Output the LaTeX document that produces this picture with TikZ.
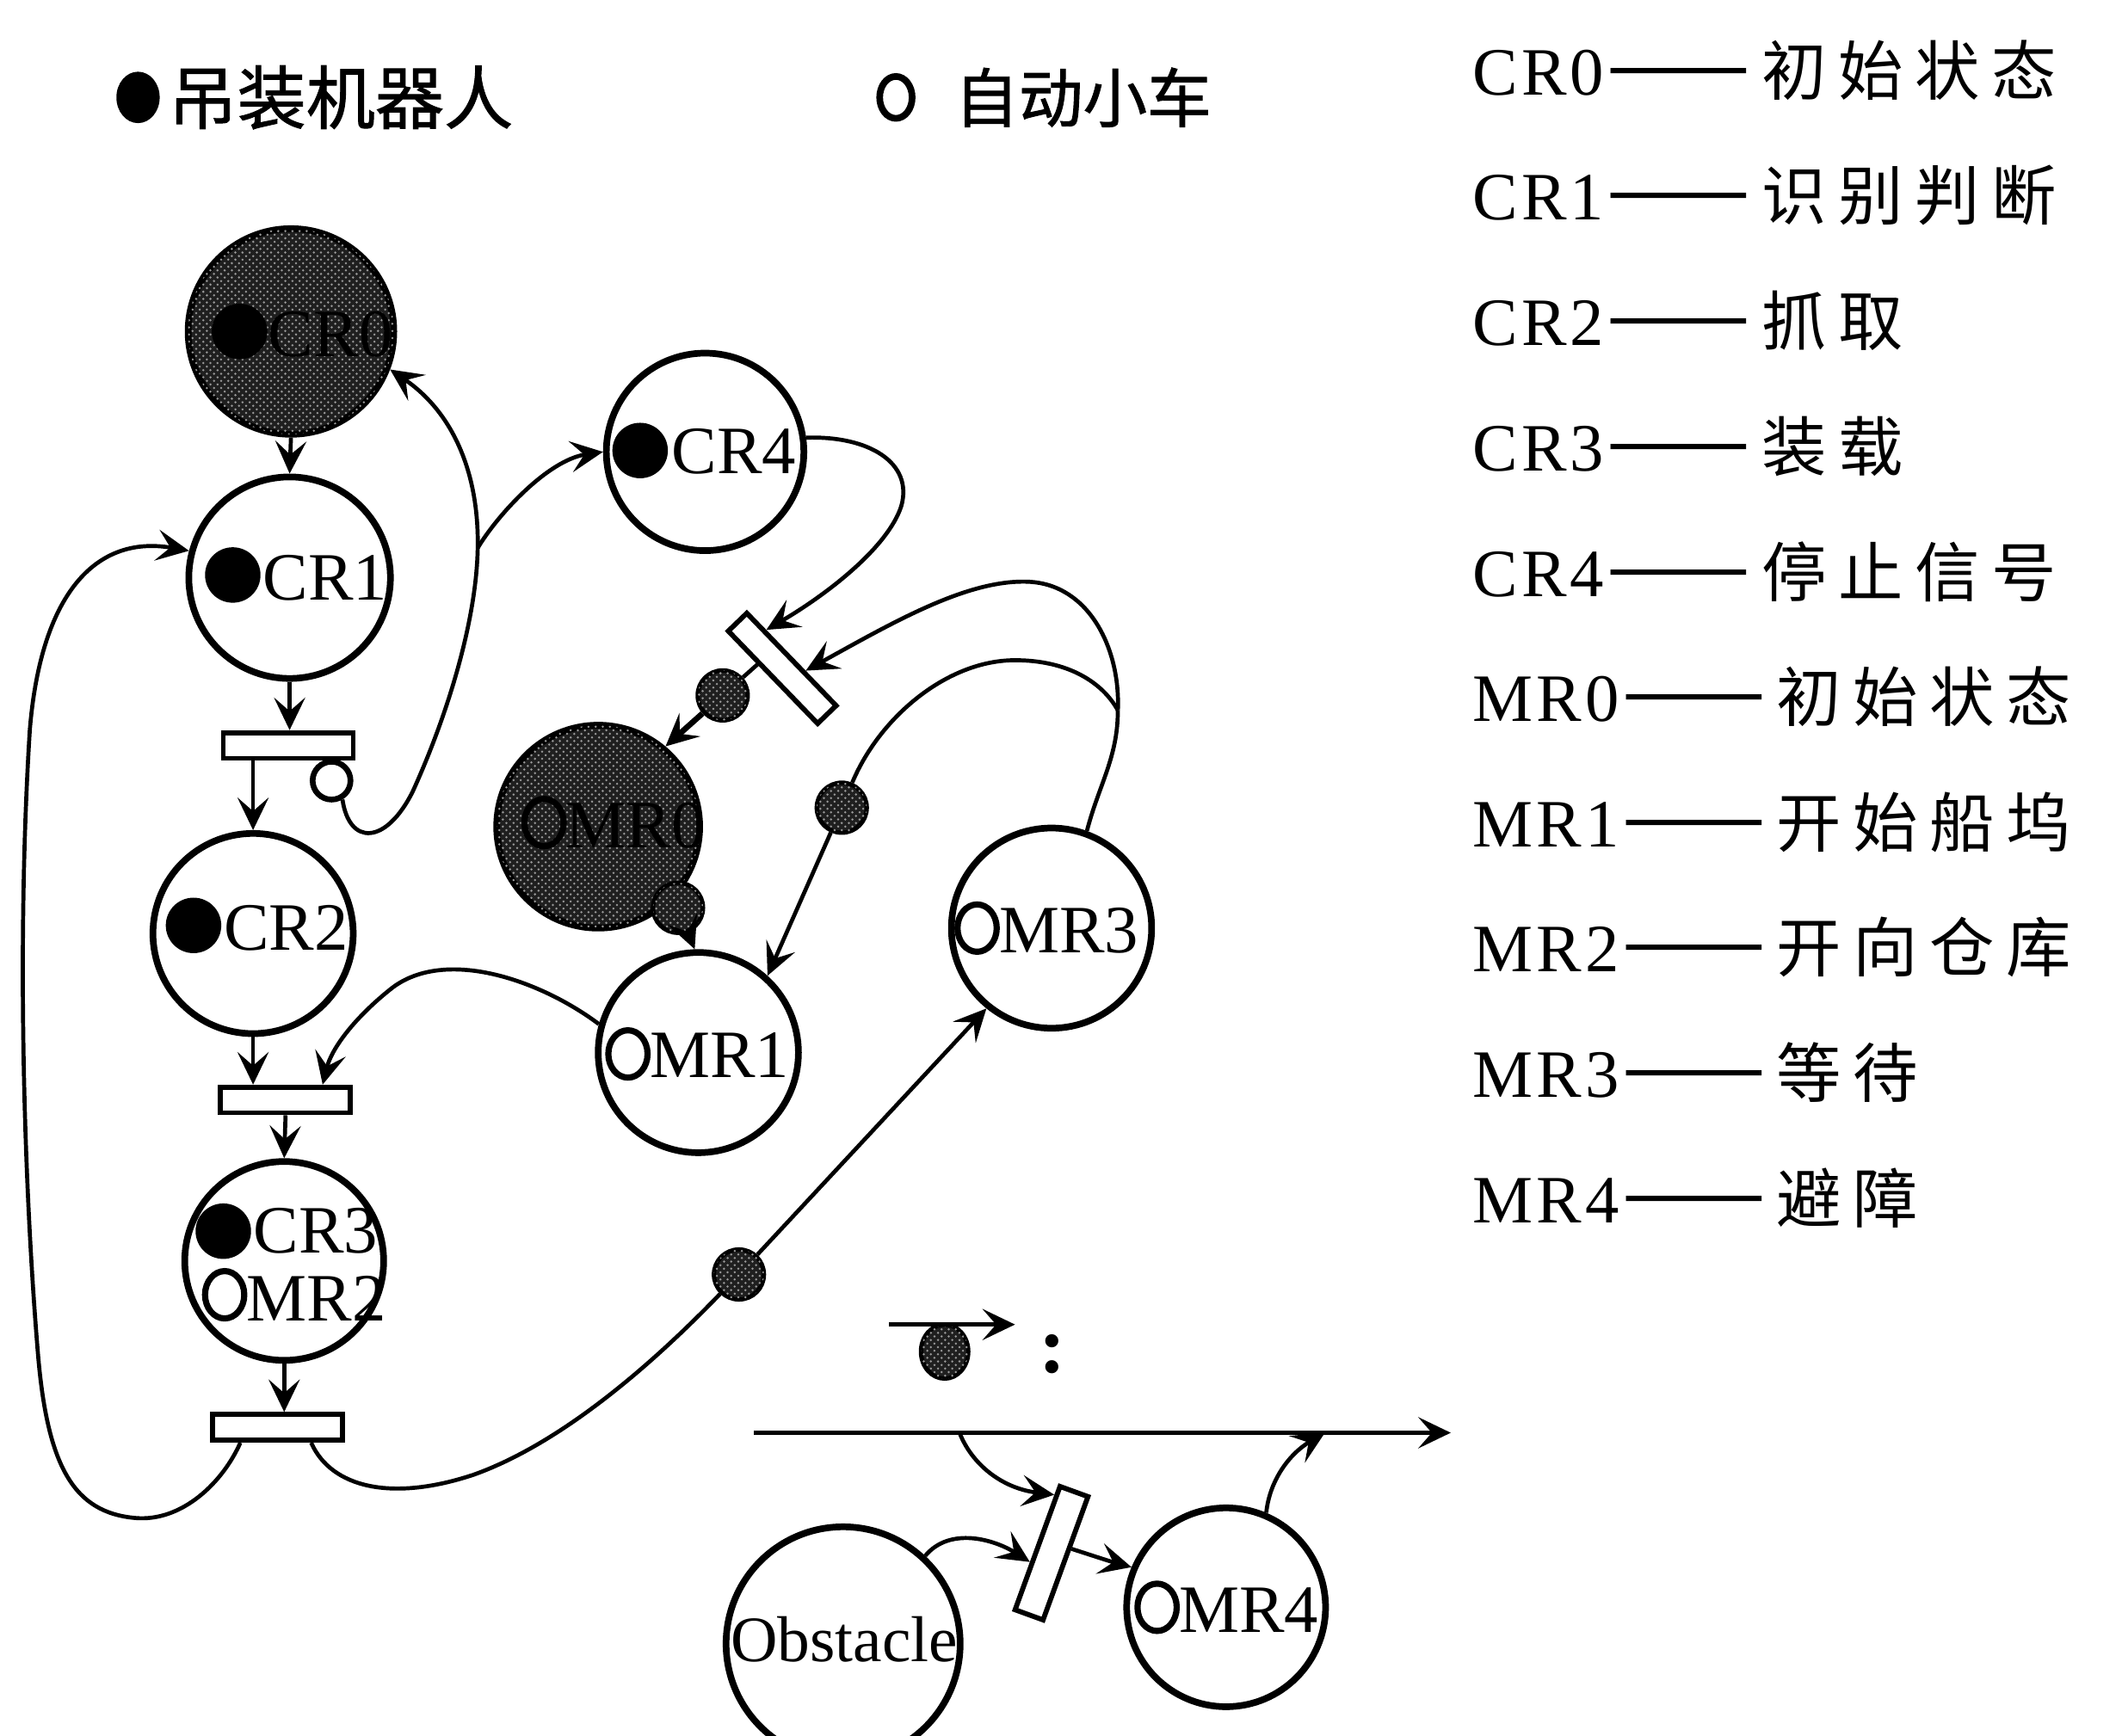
\documentclass[tikz,border=0pt]{standalone}
\usepackage{fontspec}
\setmainfont{Liberation Serif}
\newfontfamily\cjk{Noto Sans CJK SC}
\newfontfamily\cjkb[FakeBold=1.2]{Noto Sans CJK SC}
\newfontfamily\cjkls[LetterSpace=18]{Noto Sans CJK SC}
\newfontfamily\latls[LetterSpace=5]{Liberation Serif}
\usetikzlibrary{arrows.meta,calc,patterns,shapes.geometric}
\begin{document}
\begin{tikzpicture}[x=0.02cm,y=-0.02cm,
  pl/.style={circle,draw,line width=2.8pt,minimum size=#1,inner sep=0pt},
  tbar/.style={rectangle,draw,line width=2.1pt,fill=white,minimum width=1.92cm,minimum height=0.38cm,inner sep=0pt},
  dark/.style={fill=black!88,postaction={pattern=crosshatch dots,pattern color=black!40}},
  tok/.style={circle,draw,line width=1.8pt,minimum size=0.74cm,inner sep=0pt,dark},
  inh/.style={circle,draw,line width=2.4pt,fill=white,minimum size=0.56cm,inner sep=0pt},
  conn/.style={line width=1.7pt},
  arr/.style={conn,-{Stealth[length=0.48cm,width=0.46cm,inset=0.2cm]}},
  lbl/.style={font=\fontsize{28.5}{30}\selectfont,inner sep=0pt,anchor=west},
  leg/.style={inner sep=0pt,anchor=west},
  odot/.style={line width=2.6pt},
]
\useasboundingbox (0,0) rectangle (1568,1283);

% ---------- top legend
\fill (102,72) ellipse [x radius=0.32cm, y radius=0.38cm];
\node[leg] (lgA) at (124,72) {\cjkb\fontsize{29}{30}\selectfont 吊装机器人};
\draw[line width=2.8pt] (662,72) ellipse [x radius=0.24cm, y radius=0.31cm];
\node[leg] (lgB) at (705,72) {\cjkb\fontsize{27}{30}\selectfont 自动小车};

% ---------- right legend
\foreach \lab/\txt [count=\i from 0] in {CR0/初始状态,CR1/识别判断,CR2/抓取,CR3/装载,CR4/停止信号,MR0/初始状态,MR1/开始船坞,MR2/开向仓库,MR3/等待,MR4/避障}
  \node[leg] (lg\lab) at (1088,52+92.6*\i) {{\latls\fontsize{28.5}{30}\selectfont\lab}\hspace{0.05cm}{\cjk\fontsize{36}{30}\selectfont ——}\hspace{0.16cm}{\cjkls\fontsize{27.3}{30}\selectfont\txt}};

% ---------- places and transitions
\node[pl=3.04cm,dark] (CR0) at (215,245) {};
\node[pl=2.98cm] (CR1) at (214,427) {};
\node[inh] (inh) at (245,577) {};
\node[tbar] (T1) at (213,551) {};
\node[pl=2.96cm] (CR2) at (187,690) {};
\node[tbar] (T3) at (211,813) {};
\node[pl=2.94cm] (CR3) at (210,932) {};
\node[tbar] (T4) at (205,1055) {};
\node[pl=2.92cm] (CR4) at (521,334) {};
\node[tbar,rotate=-46,minimum width=1.9cm] (T2) at (578,494) {};
\node[pl=3.0cm,dark] (MR0) at (442,611) {};
\node[pl=2.96cm] (MR1) at (516,778) {};
\node[pl=2.96cm] (MR3) at (777,686) {};
\node[pl=3.46cm] (Obs) at (623,1215) {};
\node[tbar,rotate=70,minimum width=1.94cm,minimum height=0.44cm] (T5) at (777,1148) {};
\node[pl=2.94cm] (MR4) at (906,1188) {};

% tokens
\node[tok] (tA) at (534,514) {};
\node[tok] (tB) at (501,671) {};
\node[tok] (tC) at (622,597) {};
\node[tok] (tD) at (546,942) {};

% ---------- labels inside places
\fill (177,245) circle [radius=0.41cm];
\node[lbl] (lCR0) at (198,247) {CR0};
\fill (172,425) circle [radius=0.41cm];
\node[lbl] (lCR1) at (194,427) {CR1};
\fill (143,684) circle [radius=0.41cm];
\node[lbl] (lCR2) at (165,686) {CR2};
\fill (165,910) circle [radius=0.41cm];
\node[lbl] (lCR3) at (187,910) {CR3};
\draw[odot] (166,957) ellipse [x radius=0.29cm, y radius=0.35cm];
\node[lbl] (lMR2) at (182,960) {MR2};
\fill (473,333) circle [radius=0.41cm];
\node[lbl] (lCR4) at (496,334) {CR4};
\draw[odot] (402,608) ellipse [x radius=0.29cm, y radius=0.35cm];
\node[lbl] (lMR0) at (418,610) {MR0};
\draw[odot] (464,779) ellipse [x radius=0.29cm, y radius=0.35cm];
\node[lbl] (lMR1) at (480,780) {MR1};
\draw[odot] (722,686) ellipse [x radius=0.29cm, y radius=0.35cm];
\node[lbl] (lMR3) at (738,688) {MR3};
\draw[odot] (855,1188) ellipse [x radius=0.29cm, y radius=0.35cm];
\node[lbl] (lMR4) at (871,1190) {MR4};
\node[inner sep=0pt,font=\fontsize{27.3}{30}\selectfont] (lObs) at (624,1212) {Obstacle};

% ---------- connectors: robot column
\draw[arr] (CR0.south) -- (CR1.north);
\draw[arr] (CR1.south) -- (CR1.south |- T1.north);
\draw[arr] (T1.south -| CR2.north) -- (CR2.north);
\draw[arr] (CR2.south) -- (CR2.south |- T3.north);
\draw[arr] (T3.south) -- (CR3.north);
\draw[arr] (CR3.south) -- (CR3.south |- T4.north);

% inhibitor curve to CR0 and branch to CR4
\coordinate (j) at (353,405);
\draw[conn] (inh.-60) .. controls (258,625) and (285,625) .. (305,585) .. controls (330,530) and (352,460) .. (j);
\draw[arr] (j) .. controls (354,350) and (335,305) .. (CR0.-21);
\draw[arr] (j) .. controls (368,380) and (405,340) .. (CR4.west);

% CR4 -> T2
\coordinate (T2a) at ($(T2.north)!0.58!(T2.north west)$);
\draw[arr] (CR4.8) .. controls (642,322) and (675,342) .. (666,374) .. controls (656,405) and (610,440) .. (T2a);

% MR3 -> T2 and MR3 -> token -> MR1
\coordinate (k) at (826,525);
\draw[conn] (MR3.70) .. controls (812,580) and (826,560) .. (k);
\coordinate (T2b) at ($(T2.north)!0.27!(T2.north east)$);
\draw[arr] (k) .. controls (828,480) and (805,432) .. (760,430) .. controls (715,428) and (660,460) .. (T2b);
\draw[conn] (k) .. controls (815,505) and (790,488) .. (750,488) .. controls (700,488) and (650,530) .. (tC);
\draw[arr] (tC) -- (MR1.48);

% T2 -> token -> MR0 -> token -> MR1
\coordinate (T2c) at ($(T2.south)!0.3!(T2.south west)$);
\draw[conn] (T2c) -- (tA);
\draw[arr,line width=2.4pt] (tA) -- (MR0.50);
\draw[arr] (tB) -- (MR1.92);

% MR1 -> T3
\coordinate (T3a) at ($(T3.north)!0.55!(T3.north east)$);
\draw[arr] (MR1.164) .. controls (400,725) and (330,700) .. (290,730) .. controls (262,752) and (245,775) .. (T3a);

% T4 -> CR1 (outer loop)
\coordinate (T4a) at ($(T4.south)!0.55!(T4.south west)$);
\draw[arr] (T4a) .. controls (165,1095) and (135,1125) .. (100,1122) .. controls (55,1118) and (35,1085) .. (28,1000) .. controls (18,880) and (12,700) .. (22,540) .. controls (30,440) and (70,395) .. (CR1.165);

% T4 -> token -> MR3
\coordinate (T4b) at ($(T4.south)!0.5!(T4.south east)$);
\draw[conn] (T4b) .. controls (245,1100) and (290,1110) .. (350,1090) .. controls (420,1065) and (490,1000) .. (tD);
\draw[arr] (tD) -- (MR3.-129);

% ---------- bottom right: obstacle avoidance
\node[tok,ellipse,minimum width=0.7cm,minimum height=0.8cm] (ltok) at (698,999) {};
\coordinate (la0) at (657,979);
\coordinate (la1) at (750,979);
\draw[arr] (la0) -- (la1);
\node[inner sep=0pt,font=\bfseries\fontsize{34}{36}\selectfont] (colon) at (778,1001) {:};

\coordinate (hl0) at (557,1059);
\coordinate (hl1) at (1072,1059);
\draw[arr] (hl0) -- (hl1);
\coordinate (hb) at (709,1059);
\coordinate (T5a) at ($(T5.north)!0.82!(T5.north east)$);
\draw[arr] (hb) .. controls (718,1082) and (740,1100) .. (T5a);
\coordinate (T5b) at ($(T5.north)!0.23!(T5.north west)$);
\draw[arr] (Obs.47) .. controls (702,1128) and (735,1138) .. (T5b);
\coordinate (T5c) at ($(T5.south)!0.16!(T5.south east)$);
\draw[arr] (T5c) .. controls (808,1150) and (820,1154) .. (MR4.157);
\coordinate (hm) at (979,1059);
\draw[arr] (MR4.67) .. controls (938,1095) and (952,1075) .. (hm);
\end{tikzpicture}
\end{document}
